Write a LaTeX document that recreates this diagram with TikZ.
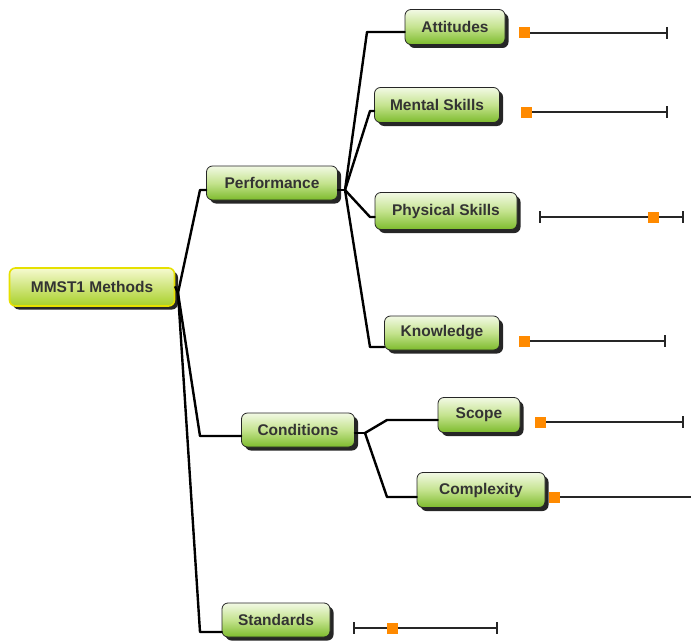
\documentclass[tikz,border=0pt]{standalone}
\usepackage{fontspec}
\setmainfont{Liberation Sans}
\usetikzlibrary{shadows,calc}
\definecolor{boxtop}{HTML}{F2F9E4}
\definecolor{boxmid}{HTML}{C4E38E}
\definecolor{boxbot}{HTML}{7DBB2C}
\definecolor{roottop}{HTML}{F6FAD0}
\definecolor{rootbot}{HTML}{A8D028}
\definecolor{rootborder}{HTML}{E6E000}
\definecolor{txt}{HTML}{333333}
\definecolor{knob}{HTML}{FF8A00}
\begin{document}
\begin{tikzpicture}[x=1pt,y=-1pt,
  mbox/.style={draw=black!85, line width=0.8pt, rounded corners=6pt,
    top color=boxtop, bottom color=boxbot, middle color=boxmid,
    drop shadow={shadow xshift=3.5pt, shadow yshift=-3.5pt, fill=black!85, opacity=1},
    text=txt, font=\bfseries\fontsize{15.5}{17}\selectfont, inner sep=0pt, minimum height=34pt},
  rootbox/.style={mbox, draw=rootborder, line width=1.6pt, top color=roottop, middle color=roottop!50!rootbot, bottom color=rootbot,
    font=\bfseries\fontsize{15.5}{17}\selectfont},
  conn/.style={line width=2.4pt, black, line join=round, line cap=round},
  slide/.style={line width=1.4pt, black!85},
  knobsq/.style={fill=knob, draw=none, minimum size=11pt, inner sep=0pt}
]
\useasboundingbox (0,0) rectangle (691,642);

% nodes
\node[rootbox, minimum width=165pt, minimum height=38pt] (root) at (92,287) {MMST1 Methods};
\node[mbox, minimum width=131pt] (perf) at (272,183) {Performance};
\node[mbox, minimum width=100pt, minimum height=35pt] (att) at (455,27) {Attitudes};
\node[mbox, minimum width=125pt, minimum height=35pt] (ment) at (437,105) {Mental Skills};
\node[mbox, minimum width=142pt, minimum height=37pt] (phys) at (446,211) {Physical Skills};
\node[mbox, minimum width=115pt] (know) at (442,333) {Knowledge};
\node[mbox, minimum width=113pt] (cond) at (298,430) {Conditions};
\node[mbox, minimum width=82pt, minimum height=35pt] (scope) at (479,415) {Scope};
\node[mbox, minimum width=128pt, minimum height=35pt] (comp) at (481,490) {Complexity};
\node[mbox, minimum width=108pt] (stand) at (276,620) {Standards};

% branch points
\coordinate (rb) at (178,293);
\coordinate (pb) at (345,190);
\coordinate (cb) at (365,433);

% connectors
\draw[conn] (root.east) -- (rb);
\draw[conn] (rb) -- (200,190) -- (perf.west |- 0,190);
\draw[conn] (rb) -- (200,436) -- (cond.west |- 0,436);
\draw[conn] (rb) -- (200,632) -- (stand.west |- 0,632);
\draw[conn] (perf.east |- 0,190) -- (pb);
\draw[conn] (pb) -- (367,32) -- (att.west |- 0,32);
\draw[conn] (pb) -- (370,111) -- (ment.west |- 0,111);
\draw[conn] (pb) -- (370,217) -- (phys.west |- 0,217);
\draw[conn] (pb) -- (370,347) -- (know.west |- 0,347);
\draw[conn] (cond.east |- 0,433) -- (cb);
\draw[conn] (cb) -- (387,420) -- (scope.west |- 0,420);
\draw[conn] (cb) -- (387,497) -- (comp.west |- 0,497);

% sliders
% Attitudes
\draw[slide] (524,33) -- (667,33);
\draw[slide] (667,27) -- (667,39);
\node[knobsq] (k1) at (524,33) {};
% Mental Skills
\draw[slide] (526,112) -- (667,112);
\draw[slide] (667,106) -- (667,118);
\node[knobsq] (k2) at (526,112) {};
% Physical Skills
\draw[slide] (540,217) -- (683,217);
\draw[slide] (540,211) -- (540,223);
\draw[slide] (683,211) -- (683,223);
\node[knobsq] (k3) at (653,217) {};
% Knowledge
\draw[slide] (524,341) -- (665,341);
\draw[slide] (665,335) -- (665,347);
\node[knobsq] (k4) at (524,341) {};
% Scope
\draw[slide] (540,422) -- (683,422);
\draw[slide] (683,416) -- (683,428);
\node[knobsq] (k5) at (540,422) {};
% Complexity
\draw[slide] (554,497) -- (691,497);
\node[knobsq] (k6) at (554,497) {};
% Standards
\draw[slide] (354,628) -- (497,628);
\draw[slide] (354,622) -- (354,634);
\draw[slide] (497,622) -- (497,634);
\node[knobsq] (k7) at (392,628) {};
\end{tikzpicture}
\end{document}
